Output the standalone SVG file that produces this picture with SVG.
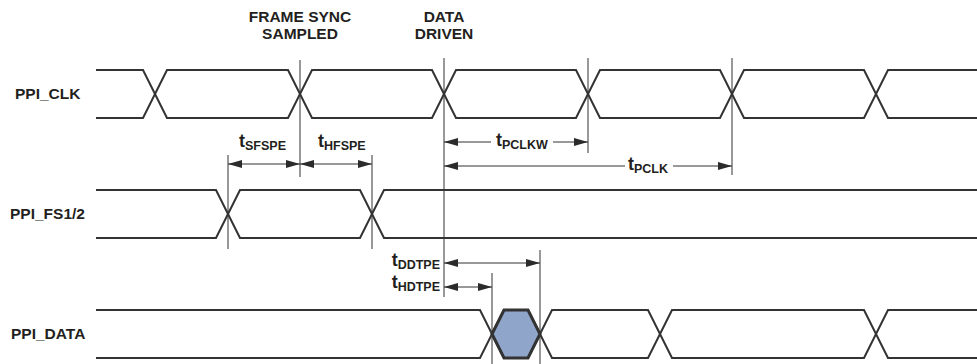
<svg xmlns="http://www.w3.org/2000/svg" width="977" height="364" viewBox="0 0 977 364">
<defs>
<marker id="ah" viewBox="0 0 14 8" refX="14" refY="4" markerWidth="14" markerHeight="8" markerUnits="userSpaceOnUse" orient="auto-start-reverse">
<path d="M0,0 L14,4 L0,8 Z" fill="#2b2b2b"/>
</marker>
</defs>
<style>
.wave{fill:none;stroke:#333;stroke-width:2;stroke-linejoin:miter}
.vl{stroke:#333;stroke-width:1;fill:none}
.dim{stroke:#333;stroke-width:1;fill:none}
.lbl{font-family:"Liberation Sans",Arial,sans-serif;font-weight:bold;font-size:15.5px;fill:#231f20}
.t{font-family:"Liberation Sans",Arial,sans-serif;font-weight:bold;font-size:18px;fill:#231f20}
.sub{font-size:12.5px}
</style>
<rect width="977" height="364" fill="#fff"/>
<g id="header">
<text class="lbl" x="300" y="22" text-anchor="middle">FRAME SYNC</text>
<text class="lbl" x="300" y="38.5" text-anchor="middle">SAMPLED</text>
<text class="lbl" x="444" y="22" text-anchor="middle">DATA</text>
<text class="lbl" x="444" y="38.5" text-anchor="middle">DRIVEN</text>
</g>
<g id="ppi_clk">
<text class="lbl" x="15" y="99">PPI_CLK</text>
<path class="wave" d="M96 70 H143 L167 118 H288 L312 70 H432 L456 118 H576 L600 70 H720 L744 118 H864 L888 70 H977"/>
<path class="wave" d="M96 118 H143 L167 70 H288 L312 118 H432 L456 70 H576 L600 118 H720 L744 70 H864 L888 118 H977"/>
</g>
<g id="ppi_fs">
<text class="lbl" x="10" y="219">PPI_FS1/2</text>
<path class="wave" d="M96 190 H216 L240 238 H360 L384 190 H977"/>
<path class="wave" d="M96 238 H216 L240 190 H360 L384 238 H977"/>
</g>
<g id="ppi_data">
<text class="lbl" x="11" y="339">PPI_DATA</text>
<path d="M492 334 L504 310 H528 L540 334 L528 358 H504 Z" fill="#8fa5c9" stroke="#333" stroke-width="3"/>
<path class="wave" d="M96 310 H480 L504 358 H528 L552 310 H648 L672 358 H864 L888 310 H977"/>
<path class="wave" d="M96 358 H480 L504 310 H528 L552 358 H648 L672 310 H864 L888 358 H977"/>
</g>
<g id="connectors">
<line class="vl" x1="300" y1="60" x2="300" y2="177"/>
<line class="vl" x1="444" y1="58" x2="444" y2="297"/>
<line class="vl" x1="588" y1="58" x2="588" y2="153"/>
<line class="vl" x1="732" y1="58" x2="732" y2="175"/>
<line class="vl" x1="228" y1="155" x2="228" y2="249"/>
<line class="vl" x1="372" y1="155" x2="372" y2="249"/>
<line class="vl" x1="492" y1="273" x2="492" y2="364"/>
<line class="vl" x1="540" y1="250" x2="540" y2="364"/>
<line class="dim" x1="228" y1="164" x2="300" y2="164" marker-start="url(#ah)" marker-end="url(#ah)"/>
<line class="dim" x1="300" y1="164" x2="372" y2="164" marker-start="url(#ah)" marker-end="url(#ah)"/>
<line class="dim" x1="491" y1="142" x2="444" y2="142" marker-end="url(#ah)"/>
<line class="dim" x1="553" y1="142" x2="588" y2="142" marker-end="url(#ah)"/>
<line class="dim" x1="625" y1="166" x2="444" y2="166" marker-end="url(#ah)"/>
<line class="dim" x1="673" y1="166" x2="732" y2="166" marker-end="url(#ah)"/>
<line class="dim" x1="444" y1="263" x2="540" y2="263" marker-start="url(#ah)" marker-end="url(#ah)"/>
<line class="dim" x1="444" y1="287" x2="492" y2="287" marker-start="url(#ah)" marker-end="url(#ah)"/>
</g>
<g id="timing-labels">
<text class="t" x="239" y="147">t<tspan class="sub" dy="2.5">SFSPE</tspan></text>
<text class="t" x="318" y="147">t<tspan class="sub" dy="2.5">HFSPE</tspan></text>
<text class="t" x="496" y="146">t<tspan class="sub" dy="2.5">PCLKW</tspan></text>
<text class="t" x="628" y="170">t<tspan class="sub" dy="2.5">PCLK</tspan></text>
<text class="t" x="440" y="266" text-anchor="end">t<tspan class="sub" dy="2.5">DDTPE</tspan></text>
<text class="t" x="440" y="288" text-anchor="end">t<tspan class="sub" dy="2.5">HDTPE</tspan></text>
</g>
</svg>
